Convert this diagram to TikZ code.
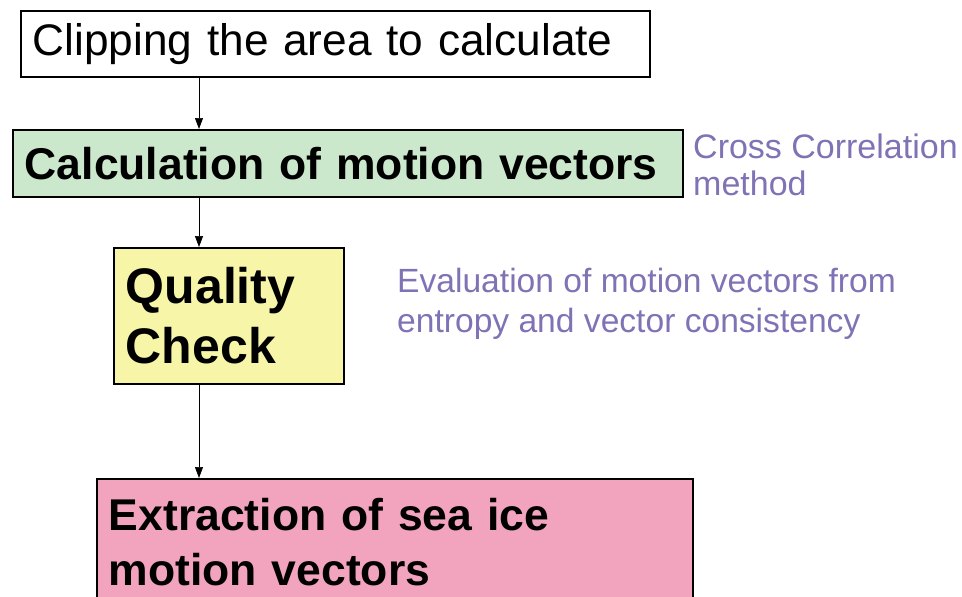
\documentclass[tikz,border=0pt]{standalone}
\usepackage{fontspec}
\setmainfont{Liberation Sans}
\usetikzlibrary{arrows.meta}

\definecolor{calcgreen}{HTML}{CCE8CC}
\definecolor{qcyellow}{HTML}{F7F5A8}
\definecolor{extpink}{HTML}{F2A4BE}
\definecolor{notepurple}{HTML}{7F72B5}

\tikzset{
  box/.style={draw=black, line width=1.6pt, inner xsep=12pt, inner ysep=0pt,
    anchor=north west, align=left},
  flow/.style={-{Triangle[length=11pt,width=8pt]}, line width=0.7pt},
  note/.style={text=notepurple, inner sep=0pt, anchor=north west, align=left}
}

\begin{document}
\begin{tikzpicture}[x=1pt,y=-1pt]
\def\xA{199}
\useasboundingbox (0,0) rectangle (962,597);
\clip (0,0) rectangle (962,597);

% Boxes
\node[box, fill=white, minimum width=629pt, minimum height=66pt, text width=605pt,
  font=\fontsize{44.2}{54}\selectfont] (clip) at (20,10) {Clipping the area to calculate};
\node[box, fill=calcgreen, minimum width=670pt, minimum height=67pt, text width=646pt,
  font=\fontsize{44.5}{54}\selectfont\bfseries] (calc) at (12,129) {Calculation of motion vectors};
\node[box, fill=qcyellow, minimum width=230pt, minimum height=136pt, text width=206pt,
  font=\fontsize{50}{60}\selectfont\bfseries] (qc) at (113,247) {Quality\\Check};
\node[box, fill=extpink, minimum width=596pt, minimum height=126pt, text width=572pt,
  font=\fontsize{44.5}{55}\selectfont\bfseries] (ext) at (96,478) {Extraction of sea ice\\motion vectors};

% Notes
\node[note, font=\fontsize{34}{37}\selectfont] (ccm) at (693,134) {Cross Correlation\\method};
\node[note, font=\fontsize{33.6}{40}\selectfont] (eval) at (397,268)
  {Evaluation of motion vectors from\\entropy and vector consistency};

% Arrows
\coordinate (axis) at (\xA,0);
\draw[flow] (clip.south -| axis) -- (calc.north -| axis);
\draw[flow] (calc.south -| axis) -- (qc.north -| axis);
\draw[flow] (qc.south -| axis) -- (ext.north -| axis);

\end{tikzpicture}
\end{document}
